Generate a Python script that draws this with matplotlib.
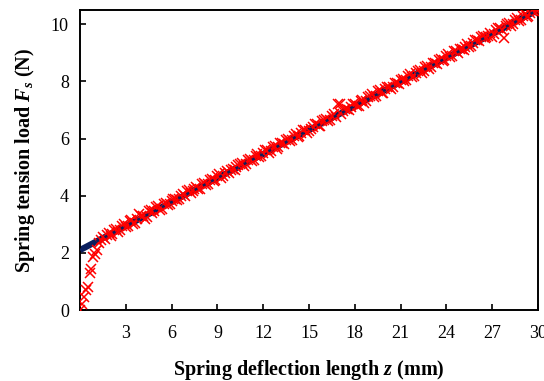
#Spring tension load vs deflection length: measured points and linear fit

#import libraries
import numpy as np
import matplotlib.pyplot as plt

plt.rcParams['font.family'] = 'Liberation Serif'
plt.rcParams['mathtext.fontset'] = 'custom'
plt.rcParams['mathtext.it'] = 'Liberation Serif:italic:bold'
plt.rcParams['mathtext.rm'] = 'Liberation Serif:bold'

z_meas_a = [0, 0.25, 0.5, 0.75, 1.0, 1.25, 1.5, 1.75, 2.0, 2.25, 2.5, 2.75,
            3.0, 3.25, 3.5, 3.75, 4.0, 4.25, 4.5, 4.75, 5.0, 5.25, 5.5, 5.75,
            6.0, 6.25, 6.5, 6.75, 7.0, 7.25, 7.5, 7.75, 8.0, 8.25, 8.5, 8.75,
            9.0, 9.25, 9.5, 9.75, 10.0, 10.25, 10.5, 10.75, 11.0, 11.25, 11.5, 11.75,
            12.0, 12.25, 12.5, 12.75, 13.0, 13.25, 13.5, 13.75, 14.0, 14.25, 14.5, 14.75,
            15.0, 15.25, 15.5, 15.75, 16.0, 16.25, 16.5, 16.75, 17.0, 17.25, 17.5, 17.75,
            18.0, 18.25, 18.5, 18.75, 19.0, 19.25, 19.5, 19.75, 20.0, 20.25, 20.5, 20.75,
            21.0, 21.25, 21.5, 21.75, 22.0, 22.25, 22.5, 22.75, 23.0, 23.25, 23.5, 23.75,
            24.0, 24.25, 24.5, 24.75, 25.0, 25.25, 25.5, 25.75, 26.0, 26.25, 26.5, 26.75,
            27.0, 27.25, 27.5, 27.75, 28.0, 28.25, 28.5, 28.75, 29.0, 29.25, 29.5, 29.75, 30.0]
F_meas_a = [0.02, 0.45, 0.8, 1.45, 1.95, 2.35, 2.55, 2.62, 2.6, 2.8, 2.75, 2.95,
            2.9, 3.1, 3.0, 3.2, 3.3, 3.2, 3.45, 3.4, 3.6, 3.5, 3.72, 3.68,
            3.8, 3.9, 3.87, 4.05, 4.15, 4.1, 4.25, 4.22, 4.4, 4.38, 4.55, 4.5,
            4.7, 4.62, 4.8, 4.78, 4.95, 5.0, 5.1, 5.05, 5.25, 5.2, 5.4, 5.35,
            5.5, 5.6, 5.55, 5.75, 5.7, 5.85, 5.95, 5.9, 6.1, 6.05, 6.2, 6.3,
            6.25, 6.4, 6.5, 6.45, 6.65, 6.6, 6.8, 6.75, 7.2, 6.95, 7.05, 7.1,
            7.2, 7.15, 7.35, 7.3, 7.5, 7.45, 7.65, 7.6, 7.75, 7.8, 7.8, 7.95,
            8.05, 8.0, 8.2, 8.15, 8.3, 8.4, 8.35, 8.55, 8.5, 8.65, 8.75, 8.7,
            8.9, 8.85, 9.05, 9.0, 9.15, 9.2, 9.2, 9.35, 9.45, 9.55, 9.5, 9.6,
            9.55, 9.8, 9.85, 9.5, 10.0, 9.95, 10.15, 10.1, 10.3, 10.25, 10.4, 10.45, 10.5]

#Measured data, second pass (in between the first)
z_meas_b = [0.125, 0.375, 0.625, 0.875, 1.125, 1.375, 1.625, 1.875, 2.125, 2.375, 2.625, 2.875,
            3.125, 3.375, 3.625, 3.875, 4.125, 4.375, 4.625, 4.875, 5.125, 5.375, 5.625, 5.875,
            6.125, 6.375, 6.625, 6.875, 7.125, 7.375, 7.625, 7.875, 8.125, 8.375, 8.625, 8.875,
            9.125, 9.375, 9.625, 9.875, 10.125, 10.375, 10.625, 10.875, 11.125, 11.375, 11.625, 11.875,
            12.125, 12.375, 12.625, 12.875, 13.125, 13.375, 13.625, 13.875, 14.125, 14.375, 14.625, 14.875,
            15.125, 15.375, 15.625, 15.875, 16.125, 16.375, 16.625, 16.875, 17.125, 17.375, 17.625, 17.875,
            18.125, 18.375, 18.625, 18.875, 19.125, 19.375, 19.625, 19.875, 20.125, 20.375, 20.625, 20.875,
            21.125, 21.375, 21.625, 21.875, 22.125, 22.375, 22.625, 22.875, 23.125, 23.375, 23.625, 23.875,
            24.125, 24.375, 24.625, 24.875, 25.125, 25.375, 25.625, 25.875, 26.125, 26.375, 26.625, 26.875,
            27.125, 27.375, 27.625, 27.875, 28.125, 28.375, 28.625, 28.875, 29.125, 29.375, 29.625, 29.875]
F_meas_b = [0.2, 0.7, 1.3, 1.85, 2.1, 2.45, 2.5, 2.7, 2.65, 2.85, 2.8, 3.0,
            2.95, 3.15, 3.05, 3.35, 3.3, 3.25, 3.5, 3.45, 3.65, 3.55, 3.75, 3.7,
            3.9, 3.85, 4.0, 4.0, 4.2, 4.15, 4.3, 4.25, 4.45, 4.4, 4.6, 4.55,
            4.75, 4.7, 4.85, 4.9, 4.9, 5.08, 5.15, 5.1, 5.3, 5.25, 5.45, 5.4,
            5.6, 5.5, 5.7, 5.65, 5.85, 5.8, 6.0, 5.95, 6.15, 6.1, 6.3, 6.2,
            6.35, 6.5, 6.45, 6.6, 6.7, 6.65, 6.85, 7.2, 6.85, 7.05, 7.0, 7.2,
            7.15, 7.3, 7.25, 7.45, 7.55, 7.5, 7.7, 7.6, 7.8, 7.75, 7.95, 7.9,
            8.1, 8.05, 8.25, 8.2, 8.35, 8.3, 8.5, 8.45, 8.65, 8.6, 8.8, 8.75,
            8.95, 8.9, 9.05, 9.15, 9.1, 9.3, 9.25, 9.45, 9.4, 9.6, 9.55, 9.7,
            9.65, 9.85, 9.8, 9.95, 10.05, 10.0, 10.2, 10.15, 10.35, 10.3, 10.45, 10.5]

#Linear fit end points
z_fit = [0, 30]
F_fit = [2.1, 10.5]

x_ticks = [3, 6, 9, 12, 15, 18, 21, 24, 27, 30]
y_ticks = [0, 2, 4, 6, 8, 10]

z_all = z_meas_a + z_meas_b
F_all = F_meas_a + F_meas_b

#Define plot
fig = plt.figure(figsize=(5.44, 3.81), dpi=100)
ax = fig.add_axes([0.147, 0.186, 0.842, 0.788])

ax.plot(z_fit, F_fit, color='#0b1f5e', linewidth=4.5, solid_capstyle='butt', zorder=2)
ax.plot(z_all, F_all, linestyle='none', marker='x', color='red',
        markersize=6.5, markeredgewidth=1.1, zorder=3)
# fit line shows through the crosses as small navy dots
ax.plot(z_fit, F_fit, color='#0b1f5e', linewidth=1.8, dashes=(1.2, 2.5), zorder=4)

ax.set_xlim(0, 30)
ax.set_ylim(0, 10.5)
ax.set_xticks(x_ticks)
ax.set_yticks(y_ticks)
ax.tick_params(direction='in', length=4, width=1.2, labelsize=13, pad=11)
ax.tick_params(axis='y', pad=8)
for sp in ax.spines.values():
    sp.set_linewidth(1.4)

# naming the axes
ax.set_xlabel(r'Spring deflection length $z$ (mm)', fontsize=14.5, fontweight='bold', labelpad=11)
ax.set_ylabel(r'Spring tension load $F_s$ (N)', fontsize=14.5, fontweight='bold', labelpad=10)

plt.savefig('out.png', dpi=100)
